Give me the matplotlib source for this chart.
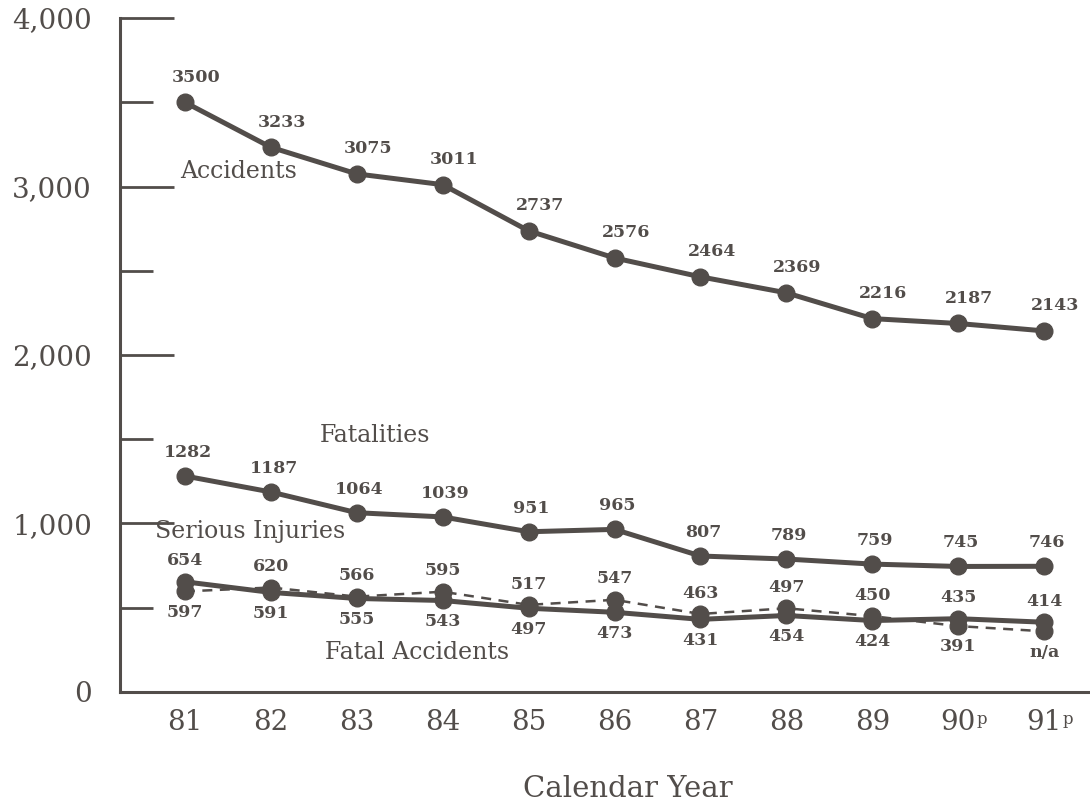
import matplotlib
matplotlib.use('Agg')
import matplotlib.pyplot as plt
from matplotlib.ticker import FixedLocator, MultipleLocator, FuncFormatter

# ---- data ----
years = ['81', '82', '83', '84', '85', '86', '87', '88', '89', '90', '91']
preliminary = ['', '', '', '', '', '', '', '', '', 'p', 'p']
accidents = [3500, 3233, 3075, 3011, 2737, 2576, 2464, 2369, 2216, 2187, 2143]
fatalities = [1282, 1187, 1064, 1039, 951, 965, 807, 789, 759, 745, 746]
fatal_accidents = [654, 591, 555, 543, 497, 473, 431, 454, 424, 435, 414]
serious_injuries = [597, 620, 566, 595, 517, 547, 463, 497, 450, 391, 360]  # last point: n/a (marker only)
serious_injuries_labels = ['597', '620', '566', '595', '517', '547', '463', '497', '450', '391', 'n/a']
y_ticks = [0, 1000, 2000, 3000, 4000]

INK = '#524d4a'
FONT = 'DejaVu Serif'
plt.rcParams['font.family'] = FONT
plt.rcParams['text.color'] = INK

fig = plt.figure(figsize=(10.9, 8.05), dpi=100)
ax = fig.add_axes([0.110, 0.1404, 0.889, 0.8372])

x = list(range(len(years)))
lw_main = 3.6
ms = 12

ax.plot(x, accidents, color=INK, lw=lw_main, marker='o', ms=ms, clip_on=False, zorder=3)
ax.plot(x, fatalities, color=INK, lw=lw_main, marker='o', ms=ms, clip_on=False, zorder=3)
ax.plot(x, fatal_accidents, color=INK, lw=lw_main, marker='o', ms=ms, clip_on=False, zorder=3)
ax.plot(x, serious_injuries, color=INK, lw=1.8, ls=(0, (4, 3)), marker='o', ms=ms,
        clip_on=False, zorder=3)

lab_kw = dict(textcoords='offset points', ha='center', va='center', fontsize=12.5,
              fontweight='bold', color=INK, zorder=4)

for xi, v in zip(x, accidents):
    ax.annotate(f'{v}', (xi, v), xytext=(8, 18), **lab_kw)
for xi, v in zip(x, fatalities):
    ax.annotate(f'{v}', (xi, v), xytext=(2, 17), **lab_kw)
for xi, (fa, si, sl) in enumerate(zip(fatal_accidents, serious_injuries, serious_injuries_labels)):
    fa_above = fa >= si or sl == 'n/a'
    ax.annotate(f'{fa}', (xi, fa), xytext=(0, 15 if fa_above else -15), **lab_kw)
    ax.annotate(sl, (xi, si), xytext=(0, -15 if fa_above else 15), **lab_kw)

# series names
name_kw = dict(fontsize=17, color=INK, ha='left', va='center')
ax.text(-0.06, 3090, 'Accidents', **name_kw)
ax.text(1.57, 1520, 'Fatalities', **name_kw)
ax.text(-0.35, 950, 'Serious Injuries', **name_kw)
ax.text(1.63, 237, 'Fatal Accidents', **name_kw)

# axes styling
ax.set_xlim(-0.756, 10.52)
ax.set_ylim(0, 4000)
for s in ['top', 'right']:
    ax.spines[s].set_visible(False)
for s in ['left', 'bottom']:
    ax.spines[s].set_linewidth(2.2)
    ax.spines[s].set_color(INK)

ax.yaxis.set_major_locator(FixedLocator(y_ticks))
ax.yaxis.set_minor_locator(MultipleLocator(500))
ax.yaxis.set_major_formatter(FuncFormatter(lambda v, p: f'{int(v):,}'))
ax.tick_params(axis='y', which='major', direction='in', length=39, width=2.0,
               color=INK, labelsize=20, labelcolor=INK, pad=20)
ax.tick_params(axis='y', which='minor', direction='in', length=24, width=2.0, color=INK)

ax.set_xticks(x)
ax.set_xticklabels(years)
ax.tick_params(axis='x', length=0, labelsize=20, labelcolor=INK, pad=12)
for xi, p in zip(x, preliminary):
    if p:
        ax.annotate(p, (xi, 0), xytext=(13, -23), textcoords='offset points',
                    ha='left', va='baseline', fontsize=12, color=INK, annotation_clip=False)

ax.set_xlabel('Calendar Year', fontsize=21, color=INK)
ax.xaxis.set_label_coords(0.524, -0.123)

fig.savefig('out.png', dpi=100)
